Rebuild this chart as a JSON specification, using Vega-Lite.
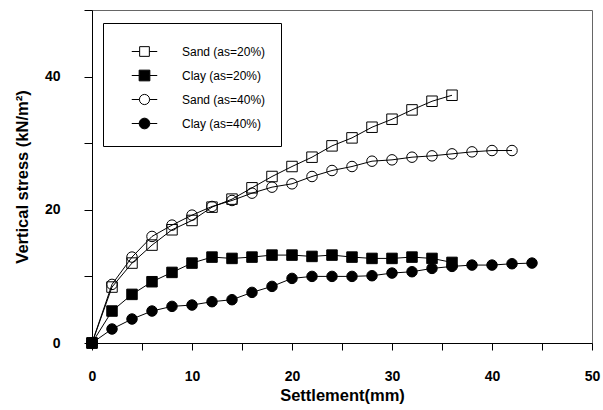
{
  "$schema": "https://vega.github.io/schema/vega-lite/v6.json",
  "width": 500,
  "height": 333,
  "autosize": "none",
  "padding": {"left": 92, "top": 10, "right": 11, "bottom": 67},
  "background": "white",
  "config": {
    "font": "Liberation Sans",
    "view": {"stroke": "#666666", "strokeWidth": 1},
    "axis": {
      "grid": false,
      "domainColor": "black",
      "domainWidth": 1,
      "tickColor": "black",
      "labelColor": "black",
      "titleColor": "black",
      "labelFont": "Liberation Sans",
      "titleFont": "Liberation Sans",
      "labelFontWeight": "bold",
      "labelFontSize": 14,
      "titleFontSize": 16.5,
      "titleFontWeight": "bold"
    },
    "legend": {
      "orient": "none",
      "legendX": 11,
      "legendY": 13,
      "strokeColor": "black",
      "fillColor": "white",
      "padding": 15,
      "symbolSize": 650,
      "symbolOffset": 13,
      "labelOffset": 24,
      "labelFontSize": 12,
      "labelFont": "Liberation Sans",
      "labelColor": "black",
      "rowPadding": 3,
      "symbolStrokeWidth": 1
    }
  },
  "data": {
    "values": [
      {"series": "Sand (as=20%)", "settlement": 0, "stress": 0},
      {"series": "Sand (as=20%)", "settlement": 2, "stress": 8.4},
      {"series": "Sand (as=20%)", "settlement": 4, "stress": 12.0},
      {"series": "Sand (as=20%)", "settlement": 6, "stress": 14.7},
      {"series": "Sand (as=20%)", "settlement": 8, "stress": 17.0},
      {"series": "Sand (as=20%)", "settlement": 10, "stress": 18.4},
      {"series": "Sand (as=20%)", "settlement": 12, "stress": 20.4},
      {"series": "Sand (as=20%)", "settlement": 14, "stress": 21.6},
      {"series": "Sand (as=20%)", "settlement": 16, "stress": 23.3},
      {"series": "Sand (as=20%)", "settlement": 18, "stress": 25.0},
      {"series": "Sand (as=20%)", "settlement": 20, "stress": 26.5},
      {"series": "Sand (as=20%)", "settlement": 22, "stress": 27.9},
      {"series": "Sand (as=20%)", "settlement": 24, "stress": 29.6},
      {"series": "Sand (as=20%)", "settlement": 26, "stress": 30.8},
      {"series": "Sand (as=20%)", "settlement": 28, "stress": 32.4},
      {"series": "Sand (as=20%)", "settlement": 30, "stress": 33.6},
      {"series": "Sand (as=20%)", "settlement": 32, "stress": 35.0},
      {"series": "Sand (as=20%)", "settlement": 34, "stress": 36.3},
      {"series": "Sand (as=20%)", "settlement": 36, "stress": 37.2},
      {"series": "Clay (as=20%)", "settlement": 0, "stress": 0},
      {"series": "Clay (as=20%)", "settlement": 2, "stress": 4.8},
      {"series": "Clay (as=20%)", "settlement": 4, "stress": 7.3},
      {"series": "Clay (as=20%)", "settlement": 6, "stress": 9.2},
      {"series": "Clay (as=20%)", "settlement": 8, "stress": 10.6},
      {"series": "Clay (as=20%)", "settlement": 10, "stress": 12.0},
      {"series": "Clay (as=20%)", "settlement": 12, "stress": 12.9},
      {"series": "Clay (as=20%)", "settlement": 14, "stress": 12.7},
      {"series": "Clay (as=20%)", "settlement": 16, "stress": 12.9},
      {"series": "Clay (as=20%)", "settlement": 18, "stress": 13.2},
      {"series": "Clay (as=20%)", "settlement": 20, "stress": 13.2},
      {"series": "Clay (as=20%)", "settlement": 22, "stress": 13.0},
      {"series": "Clay (as=20%)", "settlement": 24, "stress": 13.2},
      {"series": "Clay (as=20%)", "settlement": 26, "stress": 12.9},
      {"series": "Clay (as=20%)", "settlement": 28, "stress": 12.7},
      {"series": "Clay (as=20%)", "settlement": 30, "stress": 12.7},
      {"series": "Clay (as=20%)", "settlement": 32, "stress": 12.9},
      {"series": "Clay (as=20%)", "settlement": 34, "stress": 12.7},
      {"series": "Clay (as=20%)", "settlement": 36, "stress": 12.1},
      {"series": "Sand (as=40%)", "settlement": 0, "stress": 0},
      {"series": "Sand (as=40%)", "settlement": 2, "stress": 8.8},
      {"series": "Sand (as=40%)", "settlement": 4, "stress": 12.9},
      {"series": "Sand (as=40%)", "settlement": 6, "stress": 16.0},
      {"series": "Sand (as=40%)", "settlement": 8, "stress": 17.7},
      {"series": "Sand (as=40%)", "settlement": 10, "stress": 19.2},
      {"series": "Sand (as=40%)", "settlement": 12, "stress": 20.5},
      {"series": "Sand (as=40%)", "settlement": 14, "stress": 21.4},
      {"series": "Sand (as=40%)", "settlement": 16, "stress": 22.5},
      {"series": "Sand (as=40%)", "settlement": 18, "stress": 23.4},
      {"series": "Sand (as=40%)", "settlement": 20, "stress": 23.9},
      {"series": "Sand (as=40%)", "settlement": 22, "stress": 25.0},
      {"series": "Sand (as=40%)", "settlement": 24, "stress": 25.9},
      {"series": "Sand (as=40%)", "settlement": 26, "stress": 26.5},
      {"series": "Sand (as=40%)", "settlement": 28, "stress": 27.3},
      {"series": "Sand (as=40%)", "settlement": 30, "stress": 27.5},
      {"series": "Sand (as=40%)", "settlement": 32, "stress": 27.9},
      {"series": "Sand (as=40%)", "settlement": 34, "stress": 28.1},
      {"series": "Sand (as=40%)", "settlement": 36, "stress": 28.4},
      {"series": "Sand (as=40%)", "settlement": 38, "stress": 28.7},
      {"series": "Sand (as=40%)", "settlement": 40, "stress": 28.9},
      {"series": "Sand (as=40%)", "settlement": 42, "stress": 28.9},
      {"series": "Clay (as=40%)", "settlement": 0, "stress": 0},
      {"series": "Clay (as=40%)", "settlement": 2, "stress": 2.1},
      {"series": "Clay (as=40%)", "settlement": 4, "stress": 3.6},
      {"series": "Clay (as=40%)", "settlement": 6, "stress": 4.8},
      {"series": "Clay (as=40%)", "settlement": 8, "stress": 5.5},
      {"series": "Clay (as=40%)", "settlement": 10, "stress": 5.7},
      {"series": "Clay (as=40%)", "settlement": 12, "stress": 6.2},
      {"series": "Clay (as=40%)", "settlement": 14, "stress": 6.5},
      {"series": "Clay (as=40%)", "settlement": 16, "stress": 7.6},
      {"series": "Clay (as=40%)", "settlement": 18, "stress": 8.5},
      {"series": "Clay (as=40%)", "settlement": 20, "stress": 9.7},
      {"series": "Clay (as=40%)", "settlement": 22, "stress": 10.0},
      {"series": "Clay (as=40%)", "settlement": 24, "stress": 10.0},
      {"series": "Clay (as=40%)", "settlement": 26, "stress": 10.0},
      {"series": "Clay (as=40%)", "settlement": 28, "stress": 10.1},
      {"series": "Clay (as=40%)", "settlement": 30, "stress": 10.5},
      {"series": "Clay (as=40%)", "settlement": 32, "stress": 10.7},
      {"series": "Clay (as=40%)", "settlement": 34, "stress": 11.2},
      {"series": "Clay (as=40%)", "settlement": 36, "stress": 11.5},
      {"series": "Clay (as=40%)", "settlement": 38, "stress": 11.7},
      {"series": "Clay (as=40%)", "settlement": 40, "stress": 11.7},
      {"series": "Clay (as=40%)", "settlement": 42, "stress": 11.9},
      {"series": "Clay (as=40%)", "settlement": 44, "stress": 12.0}
    ]
  },
  "encoding": {
    "x": {
      "field": "settlement",
      "type": "quantitative",
      "scale": {"domain": [0, 50], "nice": false},
      "axis": {
        "title": "Settlement(mm)",
        "values": [0, 5, 10, 15, 20, 25, 30, 35, 40, 45, 50],
        "labelExpr": "datum.value % 10 == 0 ? datum.label : ''",
        "tickSize": 7,
        "labelPadding": 19,
        "titlePadding": 4,
        "labelFlush": false
      }
    },
    "y": {
      "field": "stress",
      "type": "quantitative",
      "scale": {"domain": [0, 50], "nice": false},
      "axis": {
        "title": "Vertical stress (kN/m²)",
        "values": [0, 10, 20, 30, 40, 50],
        "labelExpr": "datum.value % 20 == 0 ? datum.label : ''",
        "tickSize": 8,
        "labelPadding": 24,
        "titlePadding": 14,
        "labelFlush": false
      }
    }
  },
  "layer": [
    {
      "mark": {"type": "line", "stroke": "black", "strokeWidth": 1},
      "encoding": {
        "detail": {"field": "series", "type": "nominal"},
        "order": {"field": "settlement", "type": "quantitative"}
      }
    },
    {
      "mark": {"type": "point", "size": 110, "stroke": "black", "strokeWidth": 1, "opacity": 1},
      "encoding": {
        "shape": {
          "field": "series",
          "type": "nominal",
          "scale": {
            "domain": ["Sand (as=20%)", "Clay (as=20%)", "Sand (as=40%)", "Clay (as=40%)"],
            "range": ["square", "square", "circle", "circle"]
          },
          "legend": null
        },
        "fill": {
          "field": "series",
          "type": "nominal",
          "scale": {
            "domain": ["Sand (as=20%)", "Clay (as=20%)", "Sand (as=40%)", "Clay (as=40%)"],
            "range": ["transparent", "black", "transparent", "black"]
          },
          "legend": null
        }
      }
    },
    {
      "transform": [{"filter": "false"}],
      "mark": {"type": "point", "strokeWidth": 1, "opacity": 1},
      "encoding": {
        "shape": {
          "field": "series",
          "type": "nominal",
          "scale": {
            "domain": ["Sand (as=20%)", "Clay (as=20%)", "Sand (as=40%)", "Clay (as=40%)"],
            "range": [
              "M-1,0H-0.38M0.38,0H1M-0.38,-0.38H0.38V0.38H-0.38Z",
              "M-1,0H-0.42M0.42,0H1M-0.42,-0.42H0.42V0.42H-0.42Z",
              "M-1,0H-0.4M0.4,0H1M-0.4,0A0.4,0.4,0,1,0,0.4,0A0.4,0.4,0,1,0,-0.4,0Z",
              "M-1,0H-0.42M0.42,0H1M-0.42,0A0.42,0.42,0,1,0,0.42,0A0.42,0.42,0,1,0,-0.42,0Z"
            ]
          },
          "legend": {"title": null}
        },
        "fill": {
          "field": "series",
          "type": "nominal",
          "scale": {
            "domain": ["Sand (as=20%)", "Clay (as=20%)", "Sand (as=40%)", "Clay (as=40%)"],
            "range": ["white", "black", "white", "black"]
          },
          "legend": {"title": null}
        },
        "stroke": {
          "field": "series",
          "type": "nominal",
          "scale": {
            "domain": ["Sand (as=20%)", "Clay (as=20%)", "Sand (as=40%)", "Clay (as=40%)"],
            "range": ["black", "black", "black", "black"]
          },
          "legend": {"title": null}
        }
      }
    }
  ],
  "resolve": {"scale": {"shape": "independent", "fill": "independent", "stroke": "independent"}}
}
